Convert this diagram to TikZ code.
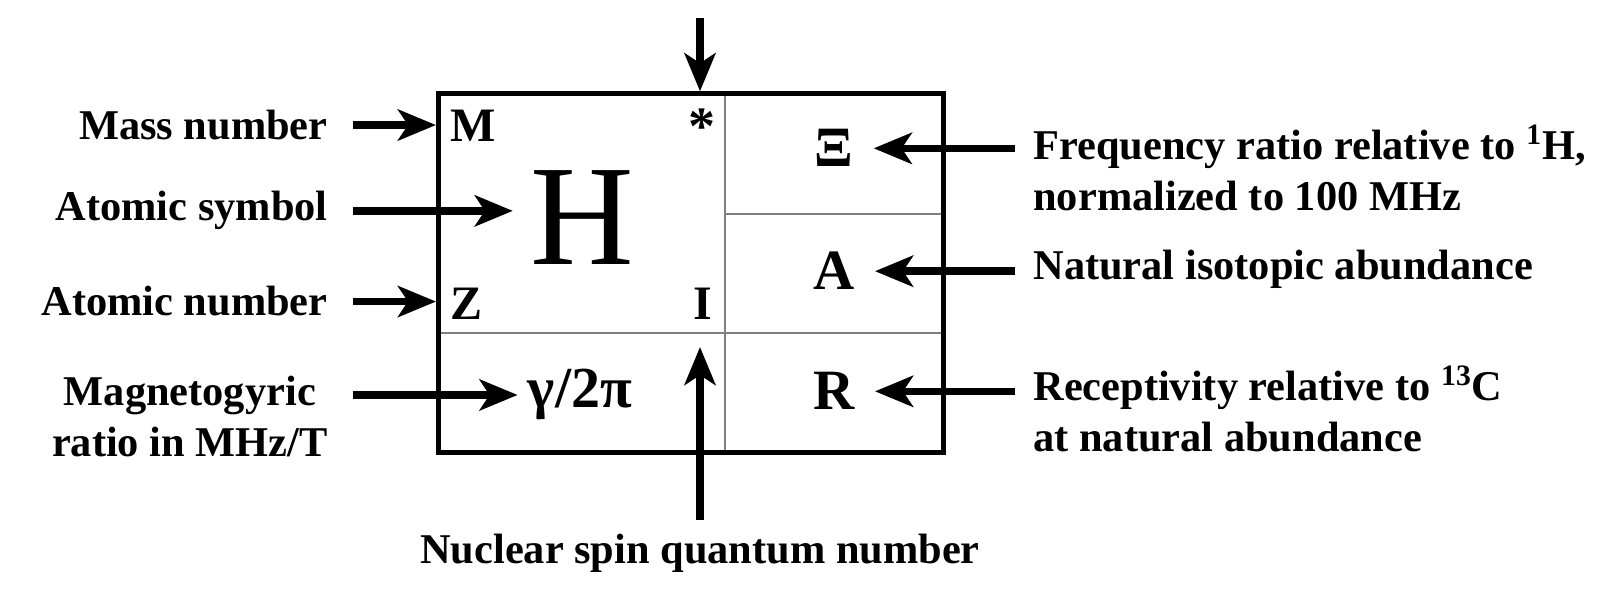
\documentclass[tikz,border=0pt]{standalone}
\usepackage{fontspec}
\setmainfont{Liberation Serif}
\usetikzlibrary{arrows.meta,positioning,calc,backgrounds}
\newcommand\lblfont{\fontsize{21.2}{25.5}\selectfont\bfseries}
\tikzset{cellframe/.style={draw=black,line width=2.5pt,minimum width=252.4pt,minimum height=179.5pt,inner sep=0pt},divider/.style={draw=black!50,line width=1pt},flow/.style={-{Stealth[length=19pt,width=15.5pt,inset=5pt]},line width=3.75pt,draw=black},note/.style={font=\lblfont,inner sep=0pt},corner/.style={font=\fontsize{24}{26}\selectfont\bfseries,inner sep=0pt},cellsym/.style={font=\fontsize{28.5}{30}\selectfont\bfseries,inner sep=0pt}}

\begin{document}
\begin{tikzpicture}[x=0.5pt,y=-0.5pt]
\useasboundingbox (0,0) rectangle (1599,592);
% the data card
\node[cellframe] (box) at (690.9,273.3) {};
\begin{scope}[on background layer]
\coordinate (colsplit) at (725,333.5);
\coordinate (rowsplit) at (725,214);
\draw[divider] (box.north -| colsplit) -- (box.south -| colsplit);
\draw[divider] (box.west |- colsplit) -- (box.east |- colsplit);
\draw[divider] (rowsplit) -- (box.east |- rowsplit);
\end{scope}
\node[corner,anchor=base west] (mass) at (450,142) {M};
\node[corner,anchor=base west] (zee) at (450,320) {Z};
\node[corner,anchor=base] (spinI) at (703,320) {I};
\node[corner,font=\fontsize{27}{28}\selectfont\bfseries] (star) at (702,127) {*};
\node[font=\fontsize{71.7}{76}\selectfont,inner sep=0pt,anchor=base] (sym) at (582,265) {H};
\node[font=\fontsize{29}{30}\selectfont\bfseries,inner sep=0pt,anchor=base] (gam) at (580,408) {γ/2π};
\node[cellsym,anchor=base] (xi) at (834,167) {Ξ};
\node[cellsym,anchor=base] (abund) at (834,290) {A};
\node[cellsym,anchor=base] (recp) at (834,410) {R};
% left labels
\node[note,anchor=base east] (lmass) at (328,139.5) {Mass number};
\node[note,anchor=base east] (lsym) at (328,221) {Atomic symbol};
\node[note,anchor=base east] (lnum) at (328,316) {Atomic number};
\node[note,anchor=base east,align=center] (lgam) at (328,456.6) {Magnetogyric\\ratio in MHz/T};
% right labels
\node[note,anchor=base west,align=left] (lfreq) at (1033,210.8) {Frequency ratio relative to \textsuperscript{1}H,\\normalized to 100 MHz};
\node[note,anchor=base west] (labund) at (1033,280) {Natural isotopic abundance};
\node[note,anchor=base west,align=left] (lrecp) at (1033,451.5) {Receptivity relative to \textsuperscript{13}C\\at natural abundance};
\node[note,anchor=base] (lspin) at (700,563.7) {Nuclear spin quantum number};
% arrows
\draw[flow,shorten <=12.5pt] (lmass.east) -- (lmass.east -| box.west);
\draw[flow,shorten <=12.5pt,shorten >=8.5pt] (lsym.east) -- (lsym.east -| sym.west);
\draw[flow,shorten <=12.5pt] (lnum.east) -- (lnum.east -| box.west);
\draw[flow,shorten <=12.5pt,shorten >=5pt] (lgam.east |- gam.west) -- (gam.west);
\draw[flow,shorten <=9pt,shorten >=10pt] (lfreq.west |- xi.east) -- (xi.east);
\draw[flow,shorten <=9pt,shorten >=10pt] (labund.west |- abund.east) -- (abund.east);
\draw[flow,shorten <=9pt,shorten >=10pt] (lrecp.west |- recp.east) -- (recp.east);
\coordinate (startop) at (700,18);
\draw[flow] (startop) -- (startop |- box.north);
\coordinate (spintip) at (700,347);
\draw[flow,shorten <=7pt] (lspin.north) -- (lspin.north |- spintip);
\end{tikzpicture}
\end{document}
